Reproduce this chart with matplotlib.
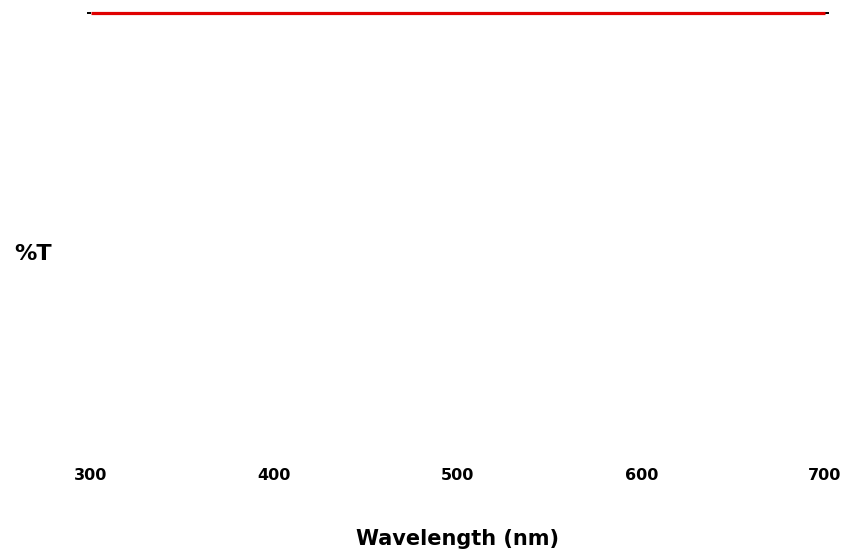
import numpy as np
import matplotlib
matplotlib.use("Agg")
import matplotlib.pyplot as plt

# transmission curve: flat at 100 %T
wavelength = [300, 350, 400, 450, 500, 550, 600, 650, 700]
transmission = [100, 100, 100, 100, 100, 100, 100, 100, 100]
xticks = [300, 400, 500, 600, 700]

fig = plt.figure(figsize=(8.45, 5.54), dpi=100)
W, H = 845, 554
left, right, top, bottom = 91, 825, 13, 460
ax = fig.add_axes([left / W, 1 - bottom / H, (right - left) / W, (bottom - top) / H])

ax.plot(wavelength, transmission, color="#e00000", lw=2.3, solid_capstyle="butt",
        clip_on=False, zorder=3)
ax.set_xlim(300, 700)
ax.set_ylim(0, 100)

for s in ax.spines.values():
    s.set_visible(False)

ax.set_xticks(xticks)
ax.set_xticklabels([str(t) for t in xticks], fontsize=11.5, fontweight="bold")
ax.tick_params(axis="x", length=0, pad=6)
ax.set_yticks([100])
ax.set_yticklabels([])
ax.tick_params(axis="y", length=3, width=1.4, color="black", left=True, right=True)

ax.set_xlabel("Wavelength (nm)", fontsize=15, fontweight="bold", labelpad=33)
fig.text(33 / W, 1 - 254 / H, "%T", fontsize=16, fontweight="bold",
         ha="center", va="center")

fig.savefig("out.png", dpi=100)
